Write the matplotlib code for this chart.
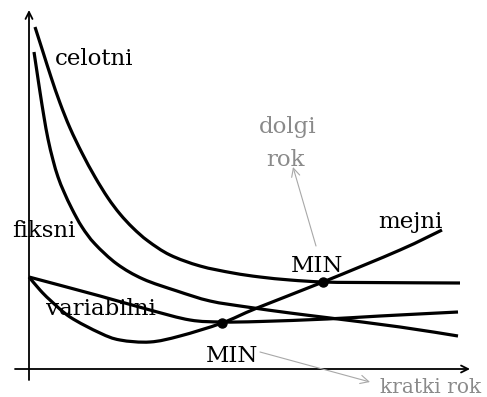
import matplotlib
matplotlib.use("Agg")
import matplotlib.pyplot as plt
from matplotlib.path import Path
from matplotlib.patches import PathPatch

# Short-run and long-run cost curves (quantity q, cost c in arbitrary units)
celotni_q = [0.6, 1.4, 2.2, 3.1, 4.1, 5.3, 6.6, 7.9, 9.1, 10.4, 11.9, 14.1, 17.1,
             20.4, 23.1, 26.1, 29.4, 33.3, 43.1]
celotni_c = [34.2, 31.7, 29.2, 26.6, 24.1, 21.6, 19.2, 17.1, 15.5, 14.1, 12.8, 11.4,
             10.3, 9.6, 9.2, 8.9, 8.7, 8.65, 8.6]

fiksni_q = [0.5, 0.8, 1.1, 1.5, 1.9, 2.4, 2.9, 3.5, 4.3, 5.3, 6.6, 8.8, 11.4, 14.8,
            18.1, 21.8, 26.1, 30.1, 37.1, 42.9]
fiksni_c = [31.7, 29.7, 27.7, 25.2, 23.0, 20.9, 19.2, 17.7, 16.0, 14.2, 12.5, 10.5,
            9.0, 7.8, 6.8, 6.2, 5.6, 5.1, 4.2, 3.3]

variabilni_q = [0.0, 7.1, 12.1, 16.1, 19.3, 23.1, 29.8, 35.1, 42.9]
variabilni_c = [9.2, 7.3, 5.9, 4.9, 4.7, 4.75, 5.0, 5.3, 5.7]

mejni_q = [0.0, 1.1, 2.1, 4.1, 7.1, 9.1, 12.1, 15.1, 19.3, 22.8, 29.4, 37.1, 41.3]
mejni_c = [9.2, 7.9, 6.9, 5.2, 3.6, 2.9, 2.7, 3.3, 4.6, 6.1, 8.7, 11.9, 13.9]

# Minimum points where the marginal curve crosses the average curves
min_q = [19.3, 29.4]
min_c = [4.6, 8.7]


def smooth_path(xs, ys):
    """Cubic Bezier path passing through every given point (Catmull-Rom tangents)."""
    pts = list(zip(xs, ys))
    n = len(pts)
    verts = [pts[0]]
    codes = [Path.MOVETO]
    for i in range(n - 1):
        p0 = pts[max(i - 1, 0)]
        p1 = pts[i]
        p2 = pts[i + 1]
        p3 = pts[min(i + 2, n - 1)]
        c1 = (p1[0] + (p2[0] - p0[0]) / 6, p1[1] + (p2[1] - p0[1]) / 6)
        c2 = (p2[0] - (p3[0] - p1[0]) / 6, p2[1] - (p3[1] - p1[1]) / 6)
        verts += [c1, c2, p2]
        codes += [Path.CURVE4] * 3
    return Path(verts, codes)


fig = plt.figure(figsize=(4.87, 3.97), dpi=100)
ax = fig.add_axes([0, 0, 1, 1])
ax.set_xlim(-2.9, 45.8)
ax.set_ylim(-2.8, 36.9)
ax.axis("off")

# Axes with arrow tips
axis_style = dict(arrowstyle="->,head_length=0.5,head_width=0.25", color="black", lw=1.3,
                  shrinkA=0, shrinkB=0)
ax.annotate("", xy=(0, 35.9), xytext=(0, -1.1), arrowprops=axis_style)
ax.annotate("", xy=(44.1, 0), xytext=(-1.4, 0), arrowprops=axis_style)

lw = 2.3
for q, c in [(celotni_q, celotni_c), (fiksni_q, fiksni_c),
             (variabilni_q, variabilni_c), (mejni_q, mejni_c)]:
    ax.add_patch(PathPatch(smooth_path(q, c), fill=False, edgecolor="black", lw=lw,
                           capstyle="butt", joinstyle="round"))

ax.plot(min_q, min_c, "o", color="black", ms=6.5)

font = dict(family="DejaVu Serif", fontsize=16.5, color="black")
ax.text(2.6, 30.4, "celotni", ha="left", va="baseline", **font)
ax.text(-1.7, 13.2, "fiksni", ha="left", va="baseline", **font)
ax.text(1.7, 5.4, "variabilni", ha="left", va="baseline", **font)
ax.text(38.1, 14.1, "mejni", ha="center", va="baseline", **font)
ax.text(28.8, 9.7, "MIN", ha="center", va="baseline", **font)
ax.text(20.35, 0.7, "MIN", ha="center", va="baseline", **font)

gray = "#8a8a8a"
gfont = dict(family="DejaVu Serif", color=gray)
ax.text(25.85, 23.6, "dolgi", ha="center", va="baseline", fontsize=16.5, **gfont)
ax.text(25.6, 20.3, "rok", ha="center", va="baseline", fontsize=16.5, **gfont)
ax.text(45.2, -2.4, "kratki rok", ha="right", va="baseline", fontsize=14.5, **gfont)

pointer = dict(arrowstyle="->,head_length=0.6,head_width=0.3", color="#a8a8a8", lw=0.8,
               shrinkA=0, shrinkB=0)
ax.annotate("", xy=(26.4, 20.2), xytext=(28.7, 12.3), arrowprops=pointer)
ax.annotate("", xy=(34.1, -1.3), xytext=(23.1, 1.7), arrowprops=pointer)

fig.savefig("out.png", dpi=100)
